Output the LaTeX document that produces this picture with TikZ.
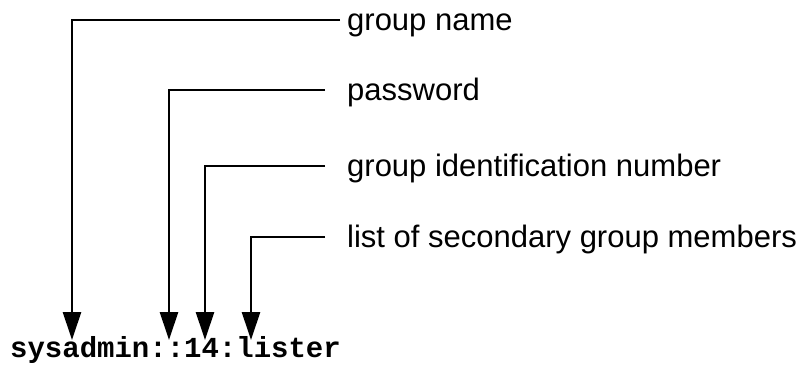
\documentclass[tikz,border=0pt]{standalone}
\usepackage{fontspec}
\setmainfont{Liberation Sans}
\newfontfamily\entryfont{Liberation Mono}
\usetikzlibrary{arrows.meta}

\begin{document}
\begin{tikzpicture}[x=1pt, y=-1pt,
    fieldname/.style={anchor=base west, inner sep=0pt, font=\fontsize{31}{36}\selectfont},
    entry/.style={anchor=base west, inner sep=0pt, font=\entryfont\bfseries\fontsize{29}{34}\selectfont},
    leader/.style={line width=2.6pt, -{Triangle[length=28pt, width=18pt]}}
  ]
    \useasboundingbox (0,0) rectangle (807,368);

    \node[fieldname] (gname) at (347,30) {group name};
    \node[fieldname] (passwd) at (347,100) {password};
    \node[fieldname] (gid) at (347,176) {group identification number};
    \node[fieldname] (members) at (347,247) {list of secondary group members};
    \node[entry] (entry) at (10,357) {sysadmin::14:lister};

    \coordinate (tname) at (72,340);
    \coordinate (tpasswd) at (169,340);
    \coordinate (tgid) at (205,340);
    \coordinate (tmembers) at (251,340);

    \draw[leader] ([xshift=-7pt, yshift=10pt]gname.base west) -| (tname);
    \draw[leader] ([xshift=-22pt, yshift=10pt]passwd.base west) -| (tpasswd);
    \draw[leader] ([xshift=-22pt, yshift=10pt]gid.base west) -| (tgid);
    \draw[leader] ([xshift=-22pt, yshift=10pt]members.base west) -| (tmembers);
  \end{tikzpicture}
\end{document}
